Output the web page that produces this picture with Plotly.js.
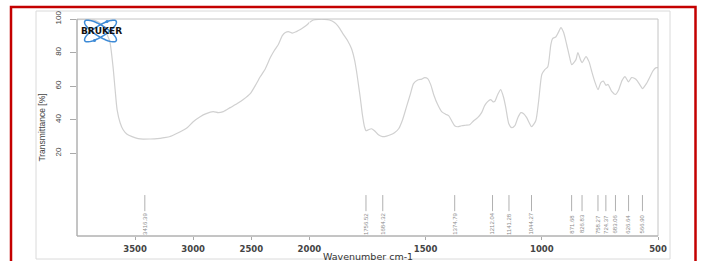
<!DOCTYPE html>
<html>
<head>
<meta charset="utf-8">
<script src="https://cdn.plot.ly/plotly-3.0.1.min.js"></script>
<style>html,body{margin:0;padding:0;background:#fff;}#chart{width:701px;height:261px;}</style>
</head>
<body>
<div id="chart"></div>
<script>
// Wavenumber (cm-1) and transmittance (%)
const wavenumber = [4000,3931,3845,3784,3741,3716,3690,3672,3655,3629,3603,3569,3526,3474,3431,3371,3310,3250,3198,3147,3095,3052,3000,2940,2888,2828,2784,2741,2681,2621,2569,2509,2466,2422,2379,2336,2302,2267,2233,2207,2181,2147,2112,2078,2052,2017,2000,
  1983,1961,1935,1914,1892,1875,1853,1836,1819,1806,1797,1789,1780,1772,1763,1756,1746,1733,1720,1703,1685,1668,1651,1634,1616,1599,1582,1565,1552,1534,1517,1504,1491,1478,1465,1448,1431,1414,1401,1388,1375,1362,1345,1328,1310,1293,1276,1259,1246,1233,1220,1211,1203,1190,1177,1164,1155,1142,1129,1116,1103,1090,1078,1065,1052,1044,1026,1013,1000,987,974,961,953,940,927,918,906,893,880,871,853,845,832,826,810,797,785,772,758,746,735,724,715,700,683,670,655,642,627,614,600,590,573,567,550,534,521,508,500];
const transmittance = [99.6,99.7,99.2,96.5,90.7,86,71.6,58,46,38.2,34,31.3,29.9,28.7,28.4,28.5,28.7,29.3,30,31.6,33.4,35.2,38.8,41.8,43.6,44.8,44.2,44.8,47.2,49.6,52,55.5,60.3,65.7,70.4,77,81.2,84.8,90.1,91.9,92.5,91.6,92.5,93.7,94.9,96.7,97.9,
  99.4,99.8,99.8,99.4,97.9,95.5,90.7,87.2,82.4,75.8,68.7,60.9,51.9,43,35.8,33.4,34,34.6,33.4,31,29.9,30.2,31,32.2,34.6,40,47.8,55.5,61.5,63.6,64.2,65.1,64.5,60.9,54.9,49,44.8,43.3,42.4,39.4,36.4,35.8,36.4,36.7,37,39.4,41.2,44.2,48.4,50.8,52,50.8,50.8,54.9,57.9,53.1,47.2,37.6,35.2,36.4,41.2,44.2,43.6,41.2,37.6,35.8,39.4,51.9,66.9,69.8,71.6,84.8,88.4,89.3,92.5,94.9,91.9,84.8,77,72.8,75.8,80,75.2,74,77.6,74.6,68.7,62.7,57.9,62.1,63,60.5,61,57,55,57.5,63.3,65.7,62.5,65.1,64.5,63.3,59.7,58.5,61.5,65.7,69.3,71,71];
const peaks = [3416.39,1756.52,1684.32,1374.79,1212.04,1141.28,1044.27,871.68,826.83,758.27,724.37,683.06,626.64,566.90];
const xTicksHigh = [3500,3000,2500];
const xTicksLow = [2000,1500,1000,500];
const yTicks = [20,40,60,80,100];

const split = 2000;
const hiX=[],hiY=[],loX=[],loY=[];
wavenumber.forEach((w,i)=>{ if(w>=split){hiX.push(w);hiY.push(transmittance[i]);} if(w<=split){loX.push(w);loY.push(transmittance[i]);} });

const lineStyle = {color:'rgb(208,208,208)', width:1.2, shape:'spline', smoothing:0.6};
const traces = [
  {x:hiX, y:hiY, xaxis:'x', yaxis:'y', type:'scatter', mode:'lines', line:lineStyle, hoverinfo:'skip'},
  {x:loX, y:loY, xaxis:'x2', yaxis:'y', type:'scatter', mode:'lines', line:lineStyle, hoverinfo:'skip'}
];

// geometry helpers (pixel -> paper)
const W=701,H=261,L=77,R=43,T=19,B=25;
const pw=W-L-R, ph=H-T-B;
const px=(x)=>(x-L)/pw, py=(y)=>(H-B-y)/ph;

const shapes=[];
// red outer border
shapes.push({type:'rect',xref:'paper',yref:'paper',x0:px(11),x1:px(695.5),y0:py(290),y1:py(7),line:{color:'#c40000',width:2.5},layer:'below'});
// light outer frame
shapes.push({type:'rect',xref:'paper',yref:'paper',x0:px(36),x1:px(670),y0:py(259),y1:py(11),line:{color:'#dadada',width:1},layer:'below'});
// plot frame: light top/right, darker left/bottom axis lines
shapes.push({type:'rect',xref:'paper',yref:'paper',x0:0,x1:1,y0:0,y1:1,line:{color:'#c4c4c4',width:1},layer:'above'});
shapes.push({type:'line',xref:'paper',yref:'paper',x0:0,x1:0,y0:0,y1:1,line:{color:'#a8a8a8',width:1},layer:'above'});
shapes.push({type:'line',xref:'paper',yref:'paper',x0:0,x1:1,y0:0,y1:0,line:{color:'#a8a8a8',width:1},layer:'above'});

// peak marker lines and labels
const annotations=[];
peaks.forEach(p=>{
  const xr = p>split?'x':'x2';
  shapes.push({type:'line',xref:xr,yref:'y',x0:p,x1:p,y0:-4.9,y1:-14.5,line:{color:'#b0b0b0',width:1}});
  annotations.push({xref:xr,yref:'y',x:p,y:-22.2,text:p.toFixed(2),textangle:-90,showarrow:false,
    font:{family:'Liberation Sans, Arial',size:6,color:'#8a8a8a'},xanchor:'center',yanchor:'middle'});
});

// Bruker logo (two crossed ellipses)
function ellipsePath(cx,cy,a,b,angDeg){
  const t=angDeg*Math.PI/180; let d='';
  for(let k=0;k<=48;k++){const u=2*Math.PI*k/48;const ex=a*Math.cos(u),ey=b*Math.sin(u);
    const X=cx+ex*Math.cos(t)-ey*Math.sin(t), Y=cy+ex*Math.sin(t)+ey*Math.cos(t);
    d+=(k?'L':'M')+px(X).toFixed(5)+','+py(Y).toFixed(5);}
  return d+'Z';
}
shapes.push({type:'path',xref:'paper',yref:'paper',path:ellipsePath(100.5,31,18.5,5.5,32),line:{color:'#3d8ad6',width:1.5},layer:'above'});
shapes.push({type:'path',xref:'paper',yref:'paper',path:ellipsePath(100.5,31,18.5,5.5,-32),line:{color:'#3d8ad6',width:1.5},layer:'above'});
[[94.5,40.5],[107,21.5]].forEach(([cx,cy])=>{
  shapes.push({type:'circle',xref:'paper',yref:'paper',x0:px(cx-1.5),x1:px(cx+1.5),y0:py(cy+1.5),y1:py(cy-1.5),fillcolor:'#3d8ad6',line:{width:0},layer:'above'});
});
annotations.push({xref:'paper',yref:'paper',x:px(101),y:py(31),text:'BRUKER',showarrow:false,xanchor:'center',yanchor:'middle',
  font:{family:'DejaVu Sans',size:9,color:'#111',weight:'bold'}});
// x axis title
annotations.push({xref:'paper',yref:'paper',x:0.5,y:py(256.5),text:'Wavenumber cm-1',showarrow:false,xanchor:'center',yanchor:'middle',
  font:{family:'DejaVu Sans',size:9.5,color:'#333'}});

const xCommon = {showgrid:false,zeroline:false,showline:false,ticks:'outside',ticklen:3,tickcolor:'#aaa',tickwidth:1,
  tickfont:{family:'DejaVu Sans',size:8.5,color:'#444',weight:'bold'},ticklabelstandoff:2,anchor:'y',fixedrange:true};
const split_dom = (4000-split)/(4000-split + 2*(split-500));

const layout = {
  width:W,height:H,margin:{l:L,r:R,t:T,b:B},paper_bgcolor:'#fff',plot_bgcolor:'#fff',showlegend:false,
  xaxis:Object.assign({},xCommon,{domain:[0,split_dom],range:[4000,split],tickvals:xTicksHigh,ticktext:xTicksHigh.map(String)}),
  xaxis2:Object.assign({},xCommon,{domain:[split_dom,1],range:[split,500],tickvals:xTicksLow,ticktext:xTicksLow.map(String)}),
  yaxis:{range:[-29.3,100],tickvals:yTicks,ticktext:yTicks.map(String),tickangle:-90,showgrid:false,zeroline:false,showline:false,
    ticks:'outside',ticklen:6,tickcolor:'#aaa',ticklabelstandoff:6,
    tickfont:{family:'Liberation Sans, Arial',size:8,color:'#444'},
    title:{text:'Transmittance [%]',font:{family:'Liberation Sans, Arial',size:8.5,color:'#444'},standoff:6},fixedrange:true},
  shapes:shapes, annotations:annotations
};
Plotly.newPlot('chart',traces,layout,{staticPlot:true,displayModeBar:false});
</script>
</body>
</html>
